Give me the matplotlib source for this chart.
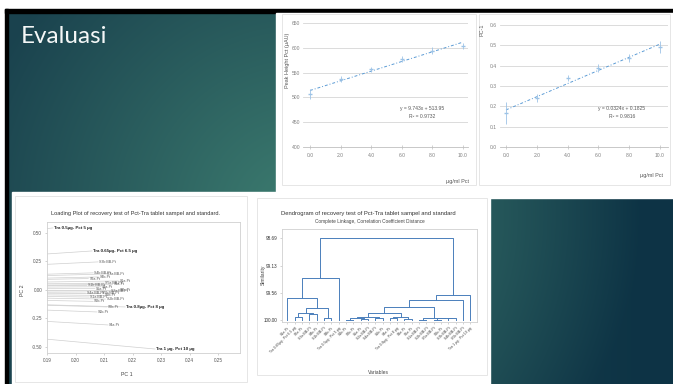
import numpy as np
import matplotlib
matplotlib.use("Agg")
import matplotlib.pyplot as plt
from matplotlib.patches import Rectangle

plt.rcParams['font.family'] = ['Liberation Sans', 'DejaVu Sans']

W, H = 673, 384

# kurva kalibrasi
kadar = [0, 2, 4, 6, 8, 10]
kadar_label = ['0.0', '2.0', '4.0', '6.0', '8.0', '10.0']
tinggi_puncak = [506, 537, 557, 578, 594, 604]
galat_puncak = [10, 6, 5, 6, 7, 6]
nilai_pc1 = [0.167, 0.241, 0.339, 0.389, 0.438, 0.492]
galat_pc1 = [0.054, 0.02, 0.015, 0.02, 0.02, 0.03]

# variabel uji perolehan kembali (urutan dendrogram)
variabel = ['S1a-Pt', 'Tra 0.65µg- Pct 6.5 µg', 'S2a-Pt', 'S3a BB-Pt', 'S4b-Pt',
            'S1b BB-Pt', 'S3b-Pt', 'Tra 0.5µg- Pct 5 µg', 'S1b-Pt', 'S2b-Pt',
            'S5a-Pt', 'S2a BB-Pt', 'S4a BB-Pt', 'S5b-Pt', 'S4a-Pt',
            'Tra 0.8µg- Pct 8 µg', 'S3a-Pt', 'S6a-Pt', 'S1a BB-Pt', 'S2b BB-Pt',
            'S5a BB-Pt', 'S6b-Pt', 'S3b BB-Pt', 'S4b BB-Pt', 'S5b BB-Pt',
            'Tra 1 µg- Pct 10 µg']
loading_pc1 = [0.2150, 0.2058, 0.2045, 0.2108, 0.2080, 0.2040, 0.2150, 0.1921,
               0.2075, 0.2110, 0.2068, 0.2120, 0.2035, 0.2098, 0.2114, 0.2174,
               0.2090, 0.2130, 0.2048, 0.2105, 0.2100, 0.2062, 0.2079, 0.2062,
               0.2088, 0.2279]
loading_pc2 = [0.079, 0.342, 0.100, 0.140, 0.114, 0.040, 0.000, 0.544,
               -0.193, -0.149, 0.012, -0.010, -0.028, -0.048, -0.307, -0.149,
               0.028, 0.048, -0.062, -0.080, 0.060, -0.100, 0.246, 0.150,
               -0.030, -0.518]

# penggabungan complete linkage: (node a, node b, similarity)
gabungan = [(1, 2, 99.94), (3, 4, 99.90), (26, 27, 99.88), (5, 6, 99.97),
            (28, 29, 99.81), (0, 30, 99.65), (31, 7, 99.33),
            (8, 9, 99.99), (10, 11, 99.98), (33, 34, 99.97), (12, 13, 99.96),
            (35, 36, 99.94), (14, 15, 99.96), (16, 17, 99.98), (38, 39, 99.95),
            (37, 40, 99.89), (18, 19, 99.99), (20, 21, 99.99), (22, 23, 99.97),
            (43, 44, 99.97), (42, 45, 99.96), (41, 46, 99.79), (47, 24, 99.67),
            (48, 25, 99.59), (32, 49, 98.69)]


def kotak(x0, y0, x1, y1):
    return [x0 / W, 1 - y1 / H, (x1 - x0) / W, (y1 - y0) / H]


def teks(x, y, s, **kw):
    fig.text(x / W, 1 - y / H, s, **kw)


fig = plt.figure(figsize=(W / 100, H / 100), dpi=100)
bg = fig.add_axes([0, 0, 1, 1])
bg.set_xlim(0, W)
bg.set_ylim(H, 0)
bg.axis('off')

# latar slide: gradasi hijau kebiruan
yy, xx = np.mgrid[12:H, 8:W].astype(float)
jarak = np.hypot(xx - 300, yy - 215)
t = np.clip(jarak / 340, 0, 1)[..., None]
s = np.clip((xx - 350) / 300, 0, 1)[..., None]
terang = np.array([0x3d, 0x7d, 0x70]) / 255
gelap_kiri = np.array([0x1a, 0x42, 0x4e]) / 255
gelap_kanan = np.array([0x0d, 0x33, 0x45]) / 255
gelap = gelap_kiri * (1 - s) + gelap_kanan * s
warna = terang * (1 - t) + gelap * t
bg.imshow(warna, extent=(8, W, H, 12), aspect='auto', interpolation='bilinear')

bg.add_patch(Rectangle((5, 9), W - 5, 3.5, color='black'))
bg.add_patch(Rectangle((5, 9), 3.2, H - 9, color='black'))

# area gambar grafik
bg.add_patch(Rectangle((276, 12.5), W - 276, 180, color='white'))
bg.add_patch(Rectangle((12, 192), 478, H - 192, color='white'))
bg.add_patch(Rectangle((490, 190), W - 490, 8, color='white'))
for x0, y0, x1, y1 in [(282, 14, 476, 185), (479, 14, 670, 185),
                       (15, 196, 247, 382), (257, 198, 487, 375)]:
    bg.add_patch(Rectangle((x0, y0), x1 - x0, y1 - y0, fill=False,
                           ec='#e2e2e2', lw=0.6))

teks(21, 43, 'Evaluasi', fontsize=17.5, color='#f4f7f7', va='baseline',
     family=['Lato', 'DejaVu Sans'])

abu = '#808080'


def gaya_kurva(ax):
    for sp in ['top', 'right', 'left']:
        ax.spines[sp].set_visible(False)
    ax.spines['bottom'].set_color('#bfbfbf')
    ax.spines['bottom'].set_linewidth(0.6)
    ax.grid(axis='y', color='#d6d6d6', lw=0.6)
    ax.set_axisbelow(True)
    ax.tick_params(axis='y', length=0, labelsize=3.6, labelcolor=abu, pad=2)
    ax.tick_params(axis='x', direction='inout', length=2.5, color='#bfbfbf',
                   width=0.5, labelsize=3.6, labelcolor=abu, pad=3)
    ax.set_facecolor('none')


# grafik 1: tinggi puncak
ax1 = fig.add_axes(kotak(303, 20, 468, 147))
ax1.set_xlim(-0.46, 10.33)
ax1.set_ylim(400, 656)
gaya_kurva(ax1)
ax1.set_yticks([400, 450, 500, 550, 600, 650])
ax1.set_xticks(kadar, kadar_label)
ax1.errorbar(kadar, tinggi_puncak, yerr=galat_puncak, fmt='_', color='#9dc3e6',
             ms=3, lw=0.6, capsize=0, zorder=3)
m1, c1 = np.polyfit(kadar, tinggi_puncak, 1)
r2_1 = np.corrcoef(kadar, tinggi_puncak)[0, 1] ** 2
xf = np.array([kadar[0], kadar[-1]])
ax1.plot(xf, m1 * xf + c1, color='#5b9bd5', lw=0.7, ls=(0, (3, 2, 1, 2)), zorder=2)
teks(422, 110, f'y = {m1:.3f}x + {c1:.2f}', fontsize=3.6, color='#595959', ha='center')
teks(422, 118, f'R² = {r2_1:.4f}', fontsize=3.6, color='#595959', ha='center')
teks(287, 60, 'Peak Height Pct (µAU)', fontsize=4, color='#595959', rotation=90,
     ha='center', va='center')
teks(458, 181, 'µg/ml Pct', fontsize=4, color='#595959', ha='center', va='center')

# grafik 2: PC-1
ax2 = fig.add_axes(kotak(500, 20, 668, 147))
ax2.set_xlim(-0.39, 10.52)
ax2.set_ylim(0, 0.6246)
gaya_kurva(ax2)
ax2.set_yticks(np.arange(0, 0.61, 0.1), [f'{v:.1f}' for v in np.arange(0, 0.61, 0.1)])
ax2.set_xticks(kadar, kadar_label)
ax2.errorbar(kadar, nilai_pc1, yerr=galat_pc1, fmt='_', color='#9dc3e6',
             ms=3, lw=0.6, ls='none', capsize=0, zorder=3)
m2, c2 = np.polyfit(kadar, nilai_pc1, 1)
r2_2 = np.corrcoef(kadar, nilai_pc1)[0, 1] ** 2
ax2.plot(xf, m2 * xf + c2, color='#5b9bd5', lw=0.7, ls=(0, (3, 2, 1, 2)), zorder=2)
teks(622, 110, f'y = {m2:.4f}x + {c2:.4f}', fontsize=3.6, color='#595959', ha='center')
teks(622, 118, f'R² = {r2_2:.4f}', fontsize=3.6, color='#595959', ha='center')
teks(482, 30, 'PC-1', fontsize=4, color='#595959', rotation=90, ha='center', va='center')
teks(652, 176, 'µg/ml Pct', fontsize=4, color='#595959', ha='center', va='center')

# grafik 3: loading plot
ax3 = fig.add_axes(kotak(47, 222, 240, 353))
ax3.set_xlim(0.19, 0.2577)
ax3.set_ylim(-0.553, 0.596)
for sp in ax3.spines.values():
    sp.set_color('#d0d0d0')
    sp.set_linewidth(0.6)
ax3.set_xticks([0.19, 0.20, 0.21, 0.22, 0.23, 0.24, 0.25],
               ['0.19', '0.20', '0.21', '0.22', '0.23', '0.24', '0.25'])
ax3.set_yticks([-0.5, -0.25, 0, 0.25, 0.5], ['-0.50', '-0.25', '0.00', '0.25', '0.50'])
ax3.tick_params(labelsize=3.3, labelcolor='#555555', length=1.5, width=0.4,
                color='#b0b0b0', pad=2)
for nama, p1, p2 in zip(variabel, loading_pc1, loading_pc2):
    ax3.plot([0, p1], [0, p2], color='#cfcfcf', lw=0.5)
    standar = nama.startswith('Tra')
    ax3.text(p1 + 0.0004, p2, nama, fontsize=3.2 if standar else 2.6,
             color='#222222' if standar else '#555555',
             fontweight='bold' if standar else 'normal', va='center', ha='left')
teks(136, 213, 'Loading Plot of recovery test of Pct-Tra tablet sampel and standard.',
     fontsize=4.1, color='#333333', ha='center', va='center')
teks(127, 374, 'PC 1', fontsize=3.8, color='#444444', ha='center', va='center')
teks(22, 290, 'PC 2', fontsize=3.8, color='#444444', ha='center', va='center', rotation=90)

# grafik 4: dendrogram
ax4 = fig.add_axes(kotak(282, 229, 477, 322))
ax4.set_xlim(-0.72, 25.9)
ax4.set_ylim(100.027, 98.546)
for sp in ax4.spines.values():
    sp.set_color('#d0d0d0')
    sp.set_linewidth(0.6)
posisi = {i: (float(i), 100.0) for i in range(len(variabel))}
for k, (a, b, sim) in enumerate(gabungan):
    xa, ya = posisi[a]
    xb, yb = posisi[b]
    ax4.plot([xa, xa, xb, xb], [ya, sim, sim, yb], color='#4a7ebb', lw=0.7)
    posisi[len(variabel) + k] = ((xa + xb) / 2, sim)
ax4.set_yticks([98.69, 99.13, 99.56, 100.00], ['98.69', '99.13', '99.56', '100.00'])
ax4.set_xticks(range(len(variabel)), variabel, rotation=45, ha='right',
               rotation_mode='anchor')
ax4.tick_params(axis='y', labelsize=3.3, labelcolor='#333333', length=1.5,
                width=0.4, color='#b0b0b0', pad=2)
ax4.tick_params(axis='x', labelsize=2.6, labelcolor='#444444', length=1.5,
                width=0.4, color='#b0b0b0', pad=1.5)
teks(368, 213, 'Dendrogram of recovery test of Pct-Tra tablet sampel and standard',
     fontsize=4.2, color='#333333', ha='center', va='center')
teks(370, 221, 'Complete Linkage, Correlation Coefficient Distance',
     fontsize=3.4, color='#444444', ha='center', va='center')
teks(263, 275, 'Similarity', fontsize=3.6, color='#444444', ha='center', va='center',
     rotation=90)
teks(378, 372, 'Variables', fontsize=3.6, color='#444444', ha='center', va='center')

fig.savefig('out.png', dpi=100)
